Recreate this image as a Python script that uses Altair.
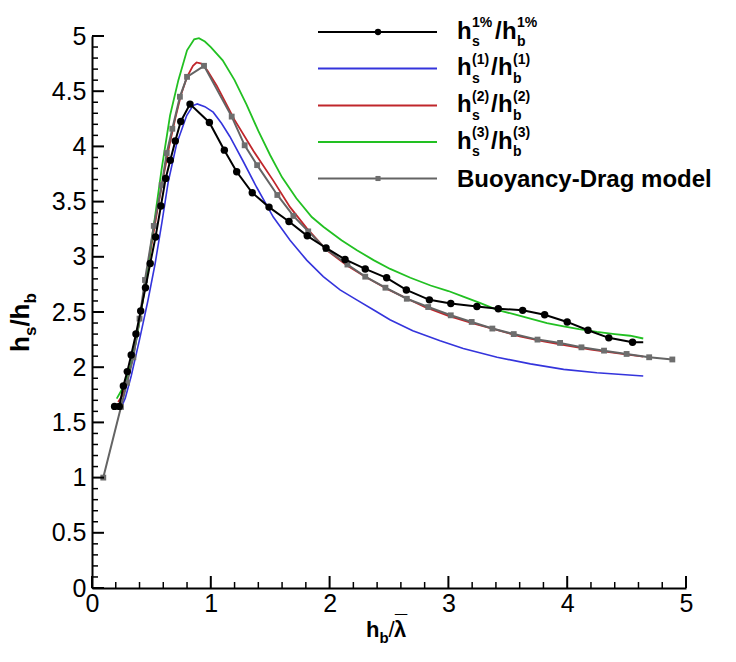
import altair as alt
import pandas as pd

# ---------------- data ----------------
# h_s^1% / h_b^1%  (black, circles)
pct_x = [0.19, 0.23, 0.264, 0.297, 0.33, 0.37, 0.41, 0.45, 0.49, 0.535,
         0.58, 0.62, 0.659, 0.701, 0.747, 0.825, 0.988, 1.114, 1.218, 1.349,
         1.49, 1.658, 1.812, 1.97, 2.13, 2.30, 2.48, 2.646, 2.84, 3.02,
         3.24, 3.42, 3.625, 3.81, 4.0, 4.175, 4.35, 4.55]
pct_y = [1.645, 1.645, 1.83, 1.96, 2.11, 2.30, 2.51, 2.72, 2.94, 3.18,
         3.46, 3.71, 3.875, 4.05, 4.226, 4.383, 4.217, 3.966, 3.77, 3.58,
         3.45, 3.32, 3.19, 3.08, 2.976, 2.89, 2.81, 2.70, 2.61, 2.577,
         2.55, 2.53, 2.515, 2.475, 2.41, 2.335, 2.266, 2.226]
pct_tail_x = [4.64]
pct_tail_y = [2.226]

# h_s^(1) / h_b^(1)  (blue)
h1_x = [0.236, 0.28, 0.33, 0.40, 0.47, 0.53, 0.59, 0.642, 0.713, 0.797,
        0.85, 0.886, 0.95, 1.02, 1.09, 1.16, 1.27, 1.386, 1.526, 1.667,
        1.807, 1.947, 2.088, 2.228, 2.368, 2.508, 2.70, 2.93, 3.125, 3.41,
        3.69, 3.97, 4.25, 4.64]
h1_y = [1.61, 1.72, 1.92, 2.25, 2.60, 2.93, 3.32, 3.68, 4.025, 4.28,
        4.37, 4.385, 4.36, 4.31, 4.21, 4.09, 3.87, 3.63, 3.36, 3.15,
        2.97, 2.82, 2.70, 2.61, 2.52, 2.43, 2.33, 2.24, 2.17, 2.09,
        2.03, 1.98, 1.95, 1.92]

# h_s^(2) / h_b^(2)  (red)
h2_x = [0.22, 0.26, 0.30, 0.35, 0.40, 0.45, 0.50, 0.55, 0.60, 0.65,
        0.70, 0.75, 0.80, 0.85, 0.88, 0.92, 0.97, 1.05, 1.20, 1.358,
        1.526, 1.667, 1.807, 1.975, 2.15, 2.30, 2.50, 2.80, 3.00, 3.20,
        3.40, 3.60, 3.80, 4.00, 4.20, 4.40, 4.64]
h2_y = [1.685, 1.75, 1.90, 2.12, 2.42, 2.76, 3.10, 3.42, 3.72, 4.00,
        4.25, 4.47, 4.63, 4.73, 4.76, 4.75, 4.69, 4.55, 4.24, 3.96,
        3.69, 3.45, 3.26, 3.06, 2.92, 2.82, 2.70, 2.545, 2.465, 2.40,
        2.34, 2.28, 2.235, 2.195, 2.16, 2.13, 2.095]

# h_s^(3) / h_b^(3)  (green)
h3_x = [0.208, 0.264, 0.32, 0.376, 0.43, 0.48, 0.53, 0.587, 0.657, 0.727,
        0.80, 0.86, 0.90, 0.95, 1.00, 1.10, 1.20, 1.30, 1.40, 1.50,
        1.60, 1.72, 1.85, 1.95, 2.10, 2.23, 2.37, 2.51, 2.68, 2.85,
        3.00, 3.125, 3.27, 3.41, 3.55, 3.69, 3.83, 3.97, 4.10, 4.25,
        4.40, 4.53, 4.64]
h3_y = [1.715, 1.82, 1.99, 2.26, 2.62, 2.98, 3.36, 3.80, 4.28, 4.60,
        4.87, 4.97, 4.98, 4.95, 4.90, 4.78, 4.60, 4.38, 4.14, 3.92,
        3.72, 3.53, 3.36, 3.27, 3.15, 3.06, 2.97, 2.89, 2.81, 2.74,
        2.69, 2.64, 2.58, 2.52, 2.48, 2.44, 2.40, 2.37, 2.345, 2.32,
        2.30, 2.285, 2.26]

# Buoyancy-Drag model (gray, squares)
bd_x = [0.095, 0.244, 0.295, 0.348, 0.40, 0.446, 0.52, 0.587, 0.629, 0.676,
        0.74, 0.80, 0.943, 1.176, 1.285, 1.39, 1.56, 1.695, 1.82, 1.97,
        2.15, 2.30, 2.47, 2.65, 2.83, 3.02, 3.196, 3.37, 3.55, 3.75,
        3.94, 4.12, 4.31, 4.50, 4.69, 4.885]
bd_y = [1.0, 1.64, 1.86, 2.09, 2.44, 2.79, 3.28, 3.65, 3.94, 4.16,
        4.45, 4.63, 4.73, 4.27, 4.01, 3.83, 3.56, 3.37, 3.23, 3.07,
        2.93, 2.82, 2.72, 2.62, 2.545, 2.47, 2.41, 2.35, 2.30, 2.25,
        2.22, 2.18, 2.15, 2.12, 2.09, 2.07]

x_major = [0, 1, 2, 3, 4, 5]
y_major = [0, 0.5, 1, 1.5, 2, 2.5, 3, 3.5, 4, 4.5, 5]
x_minor = [round(0.2 * i, 1) for i in range(26) if i % 5]
y_minor = [round(0.1 * i, 1) for i in range(51) if i % 5]

# ---------------- layout ----------------
L, T = 92, 36          # plot origin in page pixels
W, H = 594, 552        # plot area
FONT = "Liberation Sans"

BLACK, BLUE, RED, GREEN, GRAY = "#000000", "#3434dc", "#c0262b", "#22c022", "#646464"

xs = alt.Scale(domain=[0, 5], nice=False, zero=False)
ys = alt.Scale(domain=[0, 5], nice=False, zero=False)

X_AX = alt.Axis(values=x_major, format="~g", ticks=False, grid=False, title=None,
                domainColor="black", domainWidth=2, labelFont=FONT, labelFontSize=25,
                labelColor="black", labelPadding=3, labelFlush=False, labelOverlap=False)
Y_AX = alt.Axis(values=y_major, format="~g", ticks=False, grid=False, title=None,
                domainColor="black", domainWidth=2, labelFont=FONT, labelFontSize=25,
                labelColor="black", labelPadding=6, labelFlush=False, labelOverlap=False)


def XE(field):
    return alt.X(field, scale=xs, axis=X_AX, title=None)


def YE(field):
    return alt.Y(field, scale=ys, axis=Y_AX, title=None)


def df(xv, yv):
    return pd.DataFrame({"x": xv, "y": yv, "i": list(range(len(xv)))})


def curve(xv, yv, color, width=2):
    return alt.Chart(df(xv, yv)).mark_line(color=color, strokeWidth=width).encode(
        x=XE("x:Q"), y=YE("y:Q"), order="i:Q")


def markers(xv, yv, color, shape, size):
    return alt.Chart(df(xv, yv)).mark_point(
        filled=True, shape=shape, size=size, color=color, opacity=1
    ).encode(x=XE("x:Q"), y=YE("y:Q"))


def xticks(vals, length, width):
    return alt.Chart(pd.DataFrame({"x": vals})).mark_rule(color="black", strokeWidth=width).encode(
        x=XE("x:Q"), y=alt.value(H), y2=alt.value(H - length))


def yticks(vals, length, width):
    return alt.Chart(pd.DataFrame({"y": vals})).mark_rule(color="black", strokeWidth=width).encode(
        y=YE("y:Q"), x=alt.value(0), x2=alt.value(length))


def txt(text, ax, ay, size, bold=True, angle=0, dx=0, dy=0):
    kw = dict(text=text, font=FONT, fontSize=size, fontWeight="bold" if bold else "normal",
              align="left", baseline="alphabetic", color="black", dx=dx, dy=dy)
    if angle:
        kw["angle"] = angle
    return alt.Chart(pd.DataFrame({"a": [0]})).mark_text(**kw).encode(
        x=alt.value(ax - L), y=alt.value(ay - T))


layers = [
    curve(h1_x, h1_y, BLUE, 1.6),
    curve(h2_x, h2_y, RED, 1.8),
    curve(h3_x, h3_y, GREEN, 1.8),
    curve(bd_x, bd_y, GRAY, 2),
    markers(bd_x, bd_y, "#6e6e6e", "square", 34),
    curve(pct_x + pct_tail_x, pct_y + pct_tail_y, BLACK, 2),
    markers(pct_x, pct_y, BLACK, "circle", 55),
    xticks(x_major, 12, 2), xticks(x_minor, 6, 1.5),
    yticks(y_major, 12, 2), yticks(y_minor, 6, 1.5),
]

# ---------------- legend (top right, inside plot) ----------------
rows = [32, 68.5, 105.5, 142, 178.5]
cols = [BLACK, BLUE, RED, GREEN, GRAY]
for r, c in zip(rows, cols):
    layers.append(alt.Chart(pd.DataFrame({"a": [0]})).mark_rule(color=c, strokeWidth=2).encode(
        x=alt.value(318 - L), x2=alt.value(437 - L), y=alt.value(r - T)))
layers.append(alt.Chart(pd.DataFrame({"a": [0]})).mark_point(
    filled=True, shape="circle", size=40, color=BLACK, opacity=1).encode(
    x=alt.value(378 - L), y=alt.value(rows[0] - T)))
layers.append(alt.Chart(pd.DataFrame({"a": [0]})).mark_point(
    filled=True, shape="square", size=26, color="#6e6e6e", opacity=1).encode(
    x=alt.value(378 - L), y=alt.value(rows[4] - T)))

sups = ["1%", "(1)", "(2)", "(3)"]
slash_x = [495, 491, 491, 491]
for r, s, sx in zip(rows[:4], sups, slash_x):
    base = r + 6.6
    layers += [
        txt("h", 457, base, 24),
        txt(s, 472, r - 5, 14),
        txt("s", 472, r + 14, 14),
        txt("/", sx, base, 24),
        txt("h", sx + 7, base, 24),
        txt(s, sx + 22, r - 5, 14),
        txt("b", sx + 22, r + 14, 14),
    ]
layers.append(txt("Buoyancy-Drag model", 457, rows[4] + 8.4, 24))

# ---------------- axis titles ----------------
YT_X, YT_Y = 29, 352
layers += [
    txt("h", YT_X, YT_Y, 26, angle=270, dx=0),
    txt("s", YT_X, YT_Y, 17, angle=270, dx=15.9, dy=7),
    txt("/", YT_X, YT_Y, 26, angle=270, dx=25.4),
    txt("h", YT_X, YT_Y, 26, angle=270, dx=32.6),
    txt("b", YT_X, YT_Y, 17, angle=270, dx=48.5, dy=7),
]
XT_Y = 637
layers += [
    txt("h", 366, XT_Y, 22),
    txt("b", 379.5, XT_Y + 6, 15),
    txt("/", 388.5, XT_Y, 22, bold=False),
    txt("λ", 394, XT_Y, 22),
    txt("¯", 395, XT_Y - 6, 22),
]

chart = alt.layer(*layers).properties(
    width=W, height=H,
    padding={"left": L, "top": T, "right": 736 - L - W, "bottom": 662 - T - H},
    autosize=alt.AutoSizeParams(type="none"),
    background="white",
).configure_view(stroke=None)

chart.save("out.html", embed_options={"renderer": "svg", "actions": False})
